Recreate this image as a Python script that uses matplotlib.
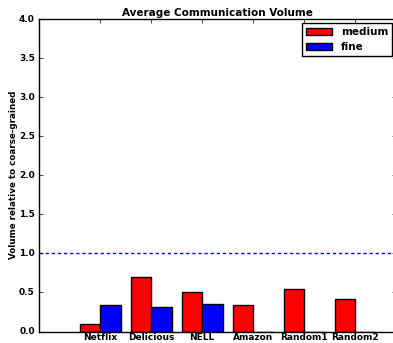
import matplotlib
matplotlib.use("Agg")
import matplotlib.pyplot as plt
import numpy as np

plt.style.use("classic")
plt.rcParams["font.family"] = ["DejaVu Sans"]
plt.rcParams["font.weight"] = "bold"

datasets = ["Netflix", "Delicious", "NELL", "Amazon", "Random1", "Random2"]
medium = [0.09, 0.70, 0.50, 0.34, 0.54, 0.42]
fine = [0.34, 0.31, 0.35, 0.0, 0.0, 0.0]

fig = plt.figure(figsize=(3.93, 3.43), dpi=100)
ax = fig.add_axes([39 / 393, 11.5 / 343, 357 / 393, 312.5 / 343])

ind = np.arange(len(datasets))
width = 0.4
ax.bar(ind - width, medium, width, align="edge", color="red",
       edgecolor="black", linewidth=1, label="medium")
ax.bar(ind, fine, width, align="edge", color="blue",
       edgecolor="black", linewidth=1, label="fine")
ax.axhline(1.0, color="blue", linestyle=(0, (2.4, 2.0)), linewidth=1)

ax.set_xlim(-1.2, 5.8)
ax.set_ylim(0, 4.0)
ax.set_xticks(ind)
ax.set_xticklabels(datasets, fontsize=6.5, fontweight="bold")
yt = np.arange(0, 4.01, 0.5)
ax.set_yticks(yt)
ax.set_yticklabels([f"{v:.1f}" for v in yt], fontsize=6.5, fontweight="bold")
ax.tick_params(axis="x", length=3, pad=1)
ax.tick_params(axis="y", length=3, pad=3)
ax.set_ylabel("Volume relative to coarse-grained", fontsize=6.3,
              fontweight="bold", labelpad=1)
ax.set_title("Average Communication Volume", fontsize=7.5,
             fontweight="bold", pad=2)
ax.legend(loc="upper right", prop={"size": 7.5, "weight": "bold"},
          handlelength=2.5, borderaxespad=0.35, fancybox=False)

fig.savefig("out.png", dpi=100)
